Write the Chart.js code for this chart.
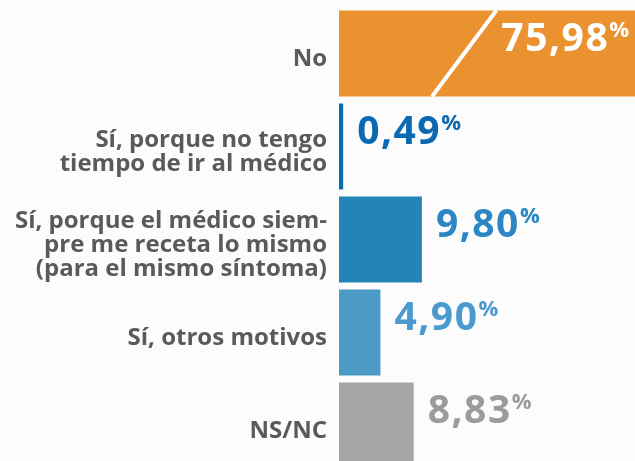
<!DOCTYPE html>
<html>
<head>
<meta charset="utf-8">
<script src="https://cdn.jsdelivr.net/npm/chart.js@4"></script>
<style>
html,body{margin:0;padding:0;background:#fcfcfc;overflow:hidden;}
#wrap{width:635px;height:472px;}
</style>
</head>
<body>
<div id="wrap"><canvas id="c" width="635" height="472"></canvas></div>
<script>
const categories = [
  'No',
  ['Sí, porque no tengo', 'tiempo de ir al médico'],
  ['Sí, porque el médico siem-', 'pre me receta lo mismo', '(para el mismo síntoma)'],
  'Sí, otros motivos',
  'NS/NC'
];
const values = [75.98, 0.49, 9.80, 4.90, 8.83];
const valueLabels = ['75,98', '0,49', '9,80', '4,90', '8,83'];
const barColors = ['#ea9130', '#0a6eae', '#2484b6', '#4c9bc6', '#a6a6a6'];
const labelColors = ['#ffffff', '#0a69b0', '#2a87c3', '#4a99cf', '#9b9b9b'];
const axisMax = 35;

const FONT = '"Open Sans", Lato, sans-serif';

const valuePlugin = {
  id: 'valueLabels',
  afterDatasetsDraw(chart) {
    const ctx = chart.ctx;
    const meta = chart.getDatasetMeta(0);
    const area = chart.chartArea;
    ctx.save();
    meta.data.forEach((bar, i) => {
      const top = bar.y - bar.height / 2;
      const numFont = 'bold 39px ' + FONT;
      const pctFont = 'bold 22px ' + FONT;
      ctx.letterSpacing = '1.5px';
      ctx.font = numFont;
      const wNum = ctx.measureText(valueLabels[i]).width;
      ctx.letterSpacing = '0px';
      ctx.font = pctFont;
      const wPct = ctx.measureText('%').width;
      let x;
      if (bar.x >= area.right - 1) {
        const xs = chart.scales.x;
        ctx.strokeStyle = '#ffffff';
        ctx.lineWidth = 4;
        ctx.beginPath();
        ctx.moveTo(xs.getPixelForValue(18.6), top);
        ctx.lineTo(xs.getPixelForValue(11.0), top + bar.height);
        ctx.stroke();
        x = area.right - 6 - wNum - wPct;
      } else {
        x = bar.x + 14;
      }
      const baseline = top + 41;
      ctx.fillStyle = labelColors[i];
      ctx.textBaseline = 'alphabetic';
      ctx.textAlign = 'left';
      ctx.letterSpacing = '1.5px';
      ctx.font = numFont;
      ctx.fillText(valueLabels[i], x, baseline);
      ctx.letterSpacing = '0px';
      ctx.font = pctFont;
      ctx.fillText('%', x + wNum, baseline - 14);
    });
    ctx.restore();
  }
};

new Chart(document.getElementById('c'), {
  type: 'bar',
  data: {
    labels: categories,
    datasets: [{
      data: values,
      backgroundColor: barColors,
      borderWidth: 0,
      barPercentage: 0.925,
      categoryPercentage: 1
    }]
  },
  options: {
    indexAxis: 'y',
    responsive: false,
    animation: false,
    events: [],
    layout: { padding: { top: 7, right: 0, bottom: 0, left: 0 } },
    plugins: { legend: { display: false }, tooltip: { enabled: false } },
    scales: {
      x: {
        display: false,
        min: 0,
        max: axisMax
      },
      y: {
        afterFit(scale) {
          scale.width = 339;
          scale.paddingTop = 0;
          scale.paddingBottom = 0;
        },
        grid: { display: false, drawTicks: false },
        border: { display: false },
        ticks: {
          padding: 12,
          labelOffset: 6,
          color: '#5a5a5c',
          font: { family: FONT, size: 24, weight: 'bold', lineHeight: 1.0 }
        }
      }
    }
  },
  plugins: [valuePlugin, {
    id: 'bg',
    beforeDraw(chart) {
      const ctx = chart.ctx;
      ctx.save();
      ctx.fillStyle = '#fcfcfc';
      ctx.fillRect(0, 0, chart.width, chart.height);
      ctx.restore();
    }
  }]
});
</script>
</body>
</html>
